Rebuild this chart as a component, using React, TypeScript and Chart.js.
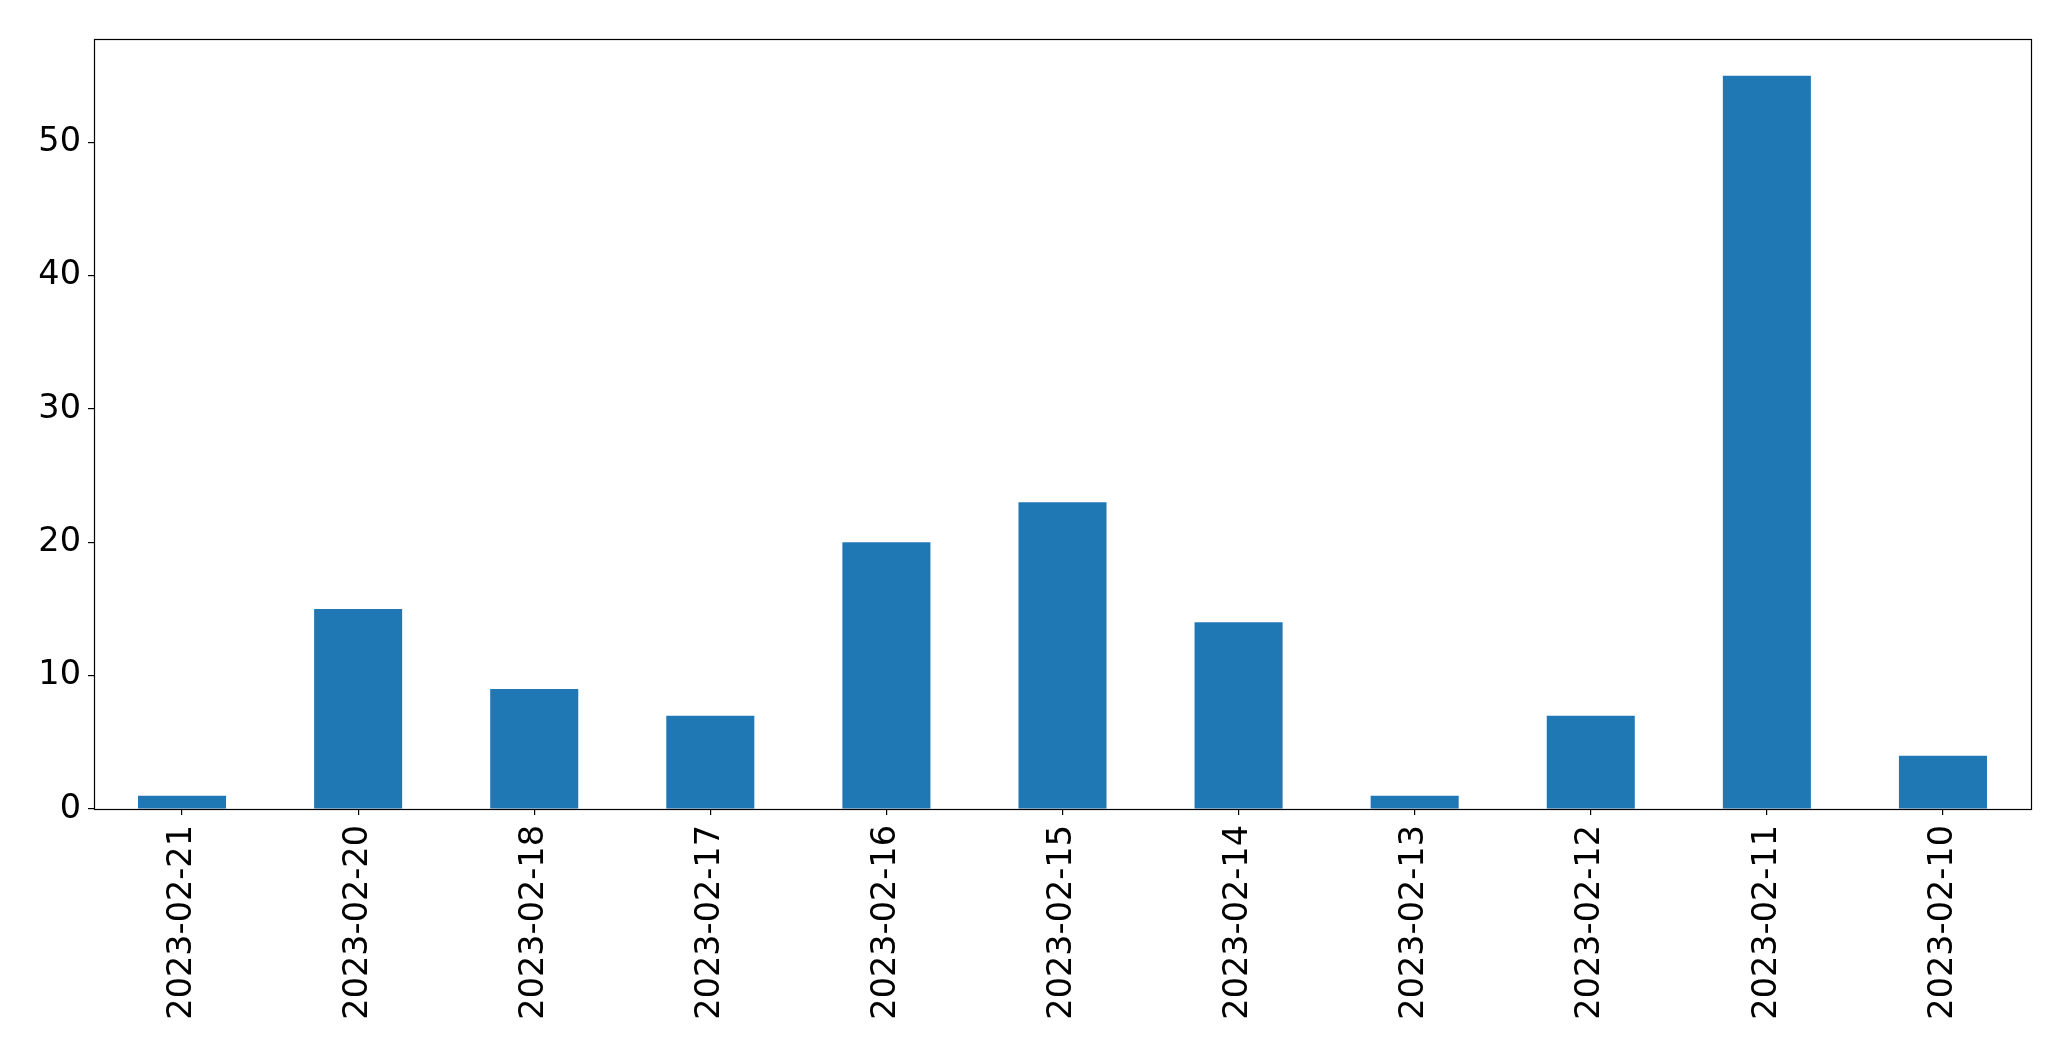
import React, { useEffect, useRef } from "react";
import { Chart, registerables } from "chart.js";

Chart.register(...registerables);

const categories = [
  "2023-02-21", "2023-02-20", "2023-02-18", "2023-02-17", "2023-02-16", "2023-02-15",
  "2023-02-14", "2023-02-13", "2023-02-12", "2023-02-11", "2023-02-10",
];
const counts = [1, 15, 9, 7, 20, 23, 14, 1, 7, 55, 4];
const yTicks = [0, 10, 20, 30, 40, 50];

const W = 2071;
const H = 1061;

const spinePlugin = {
  id: "spines",
  afterDatasetsDraw(chart: any) {
    const { ctx, chartArea } = chart;
    ctx.save();
    ctx.strokeStyle = "#000";
    ctx.lineWidth = 1.2;
    ctx.strokeRect(
      Math.round(chartArea.left) + 0.5,
      Math.round(chartArea.top) + 0.5,
      Math.round(chartArea.right - chartArea.left),
      Math.round(chartArea.bottom - chartArea.top)
    );
    ctx.restore();
  },
};

export default function App() {
  const ref = useRef<HTMLCanvasElement>(null);
  useEffect(() => {
    document.body.style.margin = "0";
    const font = { family: "'DejaVu Sans', sans-serif", size: 33.5 };
    const chart = new Chart(ref.current as HTMLCanvasElement, {
      type: "bar",
      data: {
        labels: categories,
        datasets: [
          {
            data: counts,
            backgroundColor: "#1f77b4",
            borderWidth: 0,
            categoryPercentage: 1,
            barPercentage: 0.5,
          },
        ],
      },
      plugins: [spinePlugin],
      options: {
        animation: false,
        responsive: false,
        devicePixelRatio: 1,
        layout: { padding: { left: 0, top: 39, right: 40, bottom: 0 } },
        plugins: { legend: { display: false }, tooltip: { enabled: false } },
        scales: {
          x: {
            offset: true,
            grid: {
              display: true,
              offset: false,
              drawOnChartArea: false,
              drawTicks: true,
              tickLength: 6,
              color: "#000",
              lineWidth: 1.2,
            },
            border: { display: false },
            ticks: {
              autoSkip: false,
              maxRotation: 90,
              minRotation: 90,
              padding: 10,
              color: "#000",
              font,
            },
            afterFit(scale: any) {
              scale.height = H - 809;
            },
          },
          y: {
            min: 0,
            max: 57.75,
            grid: {
              display: true,
              drawOnChartArea: false,
              drawTicks: true,
              tickLength: 6,
              color: "#000",
              lineWidth: 1.2,
            },
            border: { display: false },
            ticks: {
              padding: 7,
              color: "#000",
              font,
            },
            afterBuildTicks(scale: any) {
              scale.ticks = yTicks.map((v) => ({ value: v }));
            },
            afterFit(scale: any) {
              scale.width = 94;
            },
          },
        },
      },
    });
    return () => chart.destroy();
  }, []);
  return (
    <div style={{ position: "fixed", left: 0, top: 0, width: W, height: H, background: "#fff" }}>
      <canvas ref={ref} width={W} height={H} style={{ display: "block", width: W, height: H }} />
    </div>
  );
}
